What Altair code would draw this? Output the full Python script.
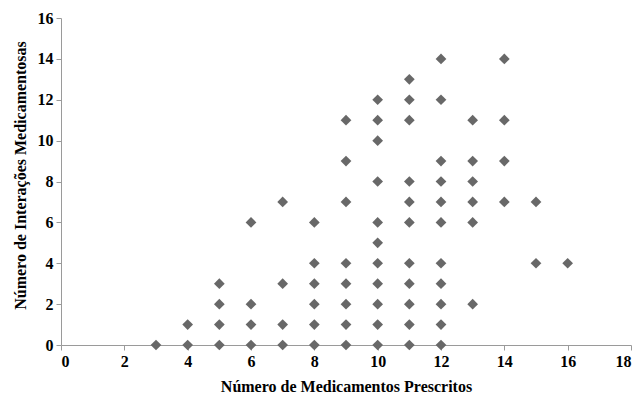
import altair as alt
import pandas as pd

# Number of prescribed drugs (x) and number of drug interactions (y)
x3 = [0]
x4 = [0, 1]
x5 = [0, 1, 2, 3]
x6 = [0, 1, 2, 6]
x7 = [0, 1, 3, 7]
x8 = [0, 1, 2, 3, 4, 6]
x9 = [0, 1, 2, 3, 4, 7, 9, 11]
x10 = [0, 1, 2, 3, 4, 5, 6, 8, 10, 11, 12]
x11 = [0, 1, 2, 3, 4, 6, 7, 8, 11, 12, 13]
x12 = [0, 1, 2, 3, 4, 6, 7, 8, 9, 12, 14]
x13 = [2, 6, 7, 8, 9, 11]
x14 = [7, 9, 11, 14]
x15 = [4, 7]
x16 = [4]

groups = {3: x3, 4: x4, 5: x5, 6: x6, 7: x7, 8: x8, 9: x9, 10: x10,
          11: x11, 12: x12, 13: x13, 14: x14, 15: x15, 16: x16}

rows = [{"med": k, "inter": v} for k, vals in groups.items() for v in vals]
df = pd.DataFrame(rows)

x_ticks = [0, 2, 4, 6, 8, 10, 12, 14, 16, 18]
y_ticks = [0, 2, 4, 6, 8, 10, 12, 14, 16]

font = "Liberation Serif"

chart = alt.Chart(df).mark_point(
    shape="diamond", filled=True, size=115, color="#686868", opacity=1
).encode(
    x=alt.X("med:Q", scale=alt.Scale(domain=[0, 18], nice=False),
            axis=alt.Axis(values=x_ticks, title="Número de Medicamentos Prescritos",
                          titleX=285, titleY=46, titleBaseline="alphabetic",
                          titleAnchor=None)),
    y=alt.Y("inter:Q", scale=alt.Scale(domain=[0, 16], nice=False),
            axis=alt.Axis(values=y_ticks, title="Número de Interações Medicamentosas",
                          titleX=-36, titleY=157, titleAngle=-90,
                          titleBaseline="alphabetic", titleAlign="center")),
).properties(
    width=570, height=327,
    padding={"left": 61, "top": 18, "right": 9, "bottom": 50},
    autosize=alt.AutoSizeParams(type="none"),
    background="white",
).configure_view(
    stroke=None
).configure_axis(
    grid=False,
    domainColor="#9a9a9a",
    tickColor="#9a9a9a",
    tickSize=5,
    labelFont=font,
    labelFontSize=16,
    labelFontWeight="bold",
    labelColor="#000000",
    labelPadding=3,
    titleFont=font,
    titleFontSize=16,
    titleFontWeight="bold",
    titleColor="#000000",
)

chart.save("out.html", embed_options={"renderer": "svg", "actions": False})
